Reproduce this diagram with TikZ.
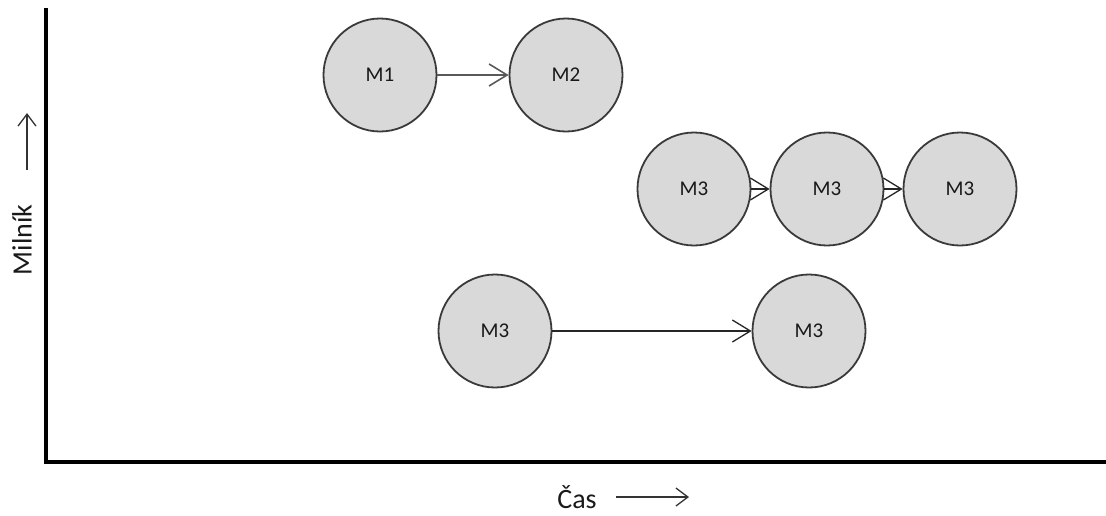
\documentclass[tikz,border=0pt]{standalone}
\usepackage{fontspec}
\setmainfont{Carlito}
\usetikzlibrary{arrows.meta}
\definecolor{nodefill}{HTML}{D9D9D9}
\definecolor{nodeline}{HTML}{3A3A3A}
\tikzset{
  milestone/.style={circle, draw=nodeline, line width=1.8pt, fill=nodefill,
    minimum size=113pt, inner sep=0pt, font=\fontsize{21}{23}\selectfont, text=black!90},
  axisline/.style={line width=4pt, black},
  conn/.style={line width=1.3pt, black!85, -{Straight Barb[length=18pt,width=22pt,line width=1.3pt]}},
  labarrow/.style={line width=1.3pt, black!80, -{Straight Barb[length=12pt,width=18pt,line width=1.3pt]}},
}
\begin{document}
\begin{tikzpicture}[x=1pt,y=-1pt]
\useasboundingbox (0,0) rectangle (1106,515);
% axes
\coordinate (otop) at (46,8);
\coordinate (origin) at (46,462);
\coordinate (xend) at (1106,462);
\draw[axisline] (otop) -- (origin) -- (xend);
% axis labels
\node[font=\fontsize{28}{30}\selectfont, text=black!90] (cas) at (577,497) {Čas};
\coordinate (casA) at (616,497);
\coordinate (casB) at (689,497);
\draw[labarrow] (casA) -- (casB);
\node[font=\fontsize{28}{30}\selectfont, text=black!90, rotate=90] (mil) at (22,240) {Milník};
\coordinate (milA) at (27,170);
\coordinate (milB) at (27,113);
\draw[labarrow] (milA) -- (milB);
% nodes
\node[milestone] (m1) at (380,75) {M1};
\node[milestone] (m2) at (566,75) {M2};
\node[milestone] (m3a) at (694,189) {M3};
\node[milestone] (m3b) at (827,189) {M3};
\node[milestone] (m3c) at (960,189) {M3};
\node[milestone] (m3d) at (495,331) {M3};
\node[milestone] (m3e) at (809,331) {M3};
% connectors
\draw[conn, black!65, line width=2.8pt, -{Straight Barb[length=18pt,width=22pt,line width=1.6pt]}] (m1) -- (m2);
\draw[conn] (m3a) -- (m3b);
\draw[conn] (m3b) -- (m3c);
\draw[conn] (m3d) -- (m3e);
\end{tikzpicture}
\end{document}
